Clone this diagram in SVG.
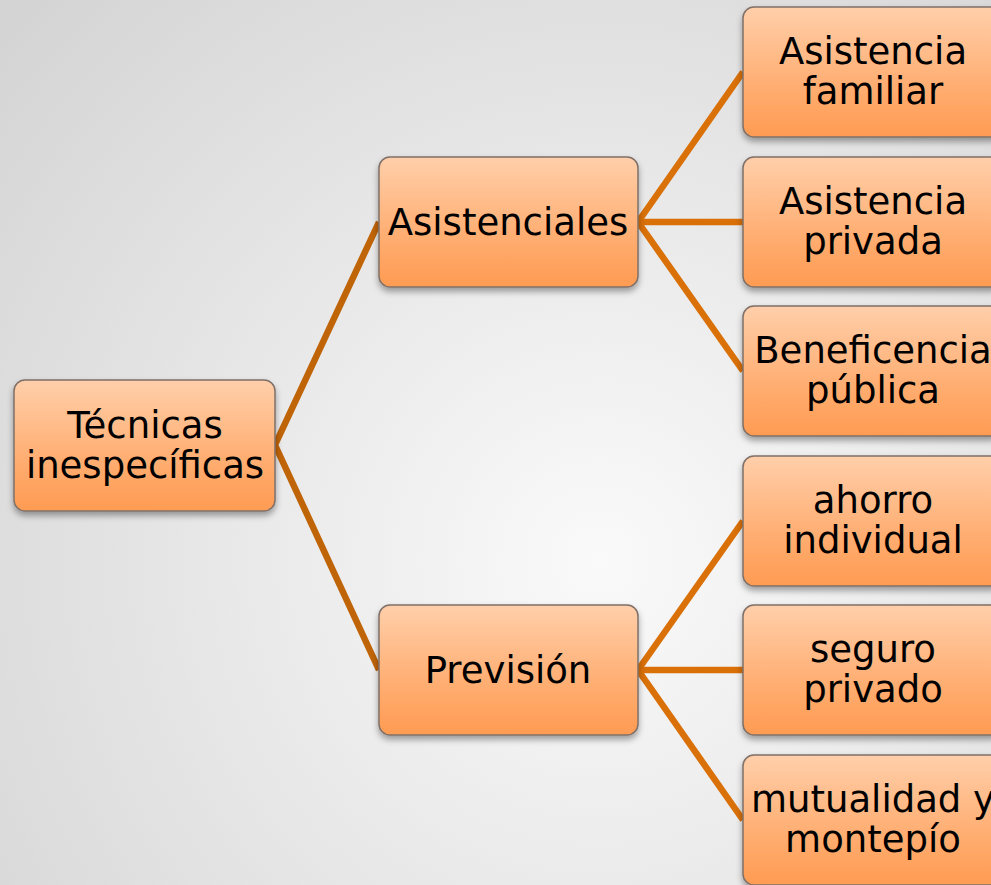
<svg xmlns="http://www.w3.org/2000/svg" width="991" height="885" viewBox="0 0 991 885">
<defs>
<radialGradient id="bg" cx="600" cy="560" r="800" gradientUnits="userSpaceOnUse">
<stop offset="0" stop-color="#fafafa"/>
<stop offset="1" stop-color="#d4d4d4"/>
</radialGradient>
<linearGradient id="nf" x1="0" y1="0" x2="0" y2="1">
<stop offset="0" stop-color="#ffcfaa"/>
<stop offset="0.6" stop-color="#ffae72"/>
<stop offset="1" stop-color="#ff9b52"/>
</linearGradient>
<filter id="sh" x="-10%" y="-10%" width="120%" height="130%">
<feDropShadow dx="0" dy="4" stdDeviation="3" flood-color="#000" flood-opacity="0.35"/>
</filter>
</defs>
<style>
.n{fill:url(#nf);stroke:#7f7068;stroke-width:1.5;filter:url(#sh)}
.t{font-family:"DejaVu Sans","Verdana",sans-serif;font-size:37px;fill:#000;text-anchor:middle}
.c1{stroke:#c06408;stroke-width:6.5;fill:none;stroke-linejoin:miter}
.c2{stroke:#d97008;stroke-width:6.5;fill:none}
</style>
<rect width="991" height="885" fill="url(#bg)"/>
<g id="connectors">
<polyline class="c1" points="379,222 275,445 379,670"/>
<line class="c2" x1="638" y1="222" x2="743" y2="72"/>
<line class="c2" x1="638" y1="222" x2="743" y2="222"/>
<line class="c2" x1="638" y1="222" x2="743" y2="371"/>
<line class="c2" x1="638" y1="670" x2="743" y2="521"/>
<line class="c2" x1="638" y1="670" x2="743" y2="670"/>
<line class="c2" x1="638" y1="670" x2="743" y2="820"/>
</g>
<g id="root">
<rect class="n" x="14" y="380" width="261" height="131" rx="11"/>
<text class="t" x="145" y="438">Técnicas</text>
<text class="t" x="145" y="478">inespecíficas</text>
</g>
<g id="asistenciales">
<rect class="n" x="379" y="157" width="259" height="130" rx="11"/>
<text class="t" x="508" y="235">Asistenciales</text>
</g>
<g id="prevision">
<rect class="n" x="379" y="605" width="259" height="130" rx="11"/>
<text class="t" x="508" y="683">Previsión</text>
</g>
<g id="asistencia-familiar">
<rect class="n" x="743" y="7" width="259" height="130" rx="11"/>
<text class="t" x="873" y="64">Asistencia</text>
<text class="t" x="873" y="104">familiar</text>
</g>
<g id="asistencia-privada">
<rect class="n" x="743" y="157" width="259" height="130" rx="11"/>
<text class="t" x="873" y="214">Asistencia</text>
<text class="t" x="873" y="254">privada</text>
</g>
<g id="beneficencia-publica">
<rect class="n" x="743" y="306" width="259" height="130" rx="11"/>
<text class="t" x="873" y="363">Beneficencia</text>
<text class="t" x="873" y="403">pública</text>
</g>
<g id="ahorro-individual">
<rect class="n" x="743" y="456" width="259" height="130" rx="11"/>
<text class="t" x="873" y="513">ahorro</text>
<text class="t" x="873" y="553">individual</text>
</g>
<g id="seguro-privado">
<rect class="n" x="743" y="605" width="259" height="130" rx="11"/>
<text class="t" x="873" y="662">seguro</text>
<text class="t" x="873" y="702">privado</text>
</g>
<g id="mutualidad-montepio">
<rect class="n" x="743" y="755" width="259" height="130" rx="11"/>
<text class="t" x="873" y="812">mutualidad y</text>
<text class="t" x="873" y="852">montepío</text>
</g>
</svg>
